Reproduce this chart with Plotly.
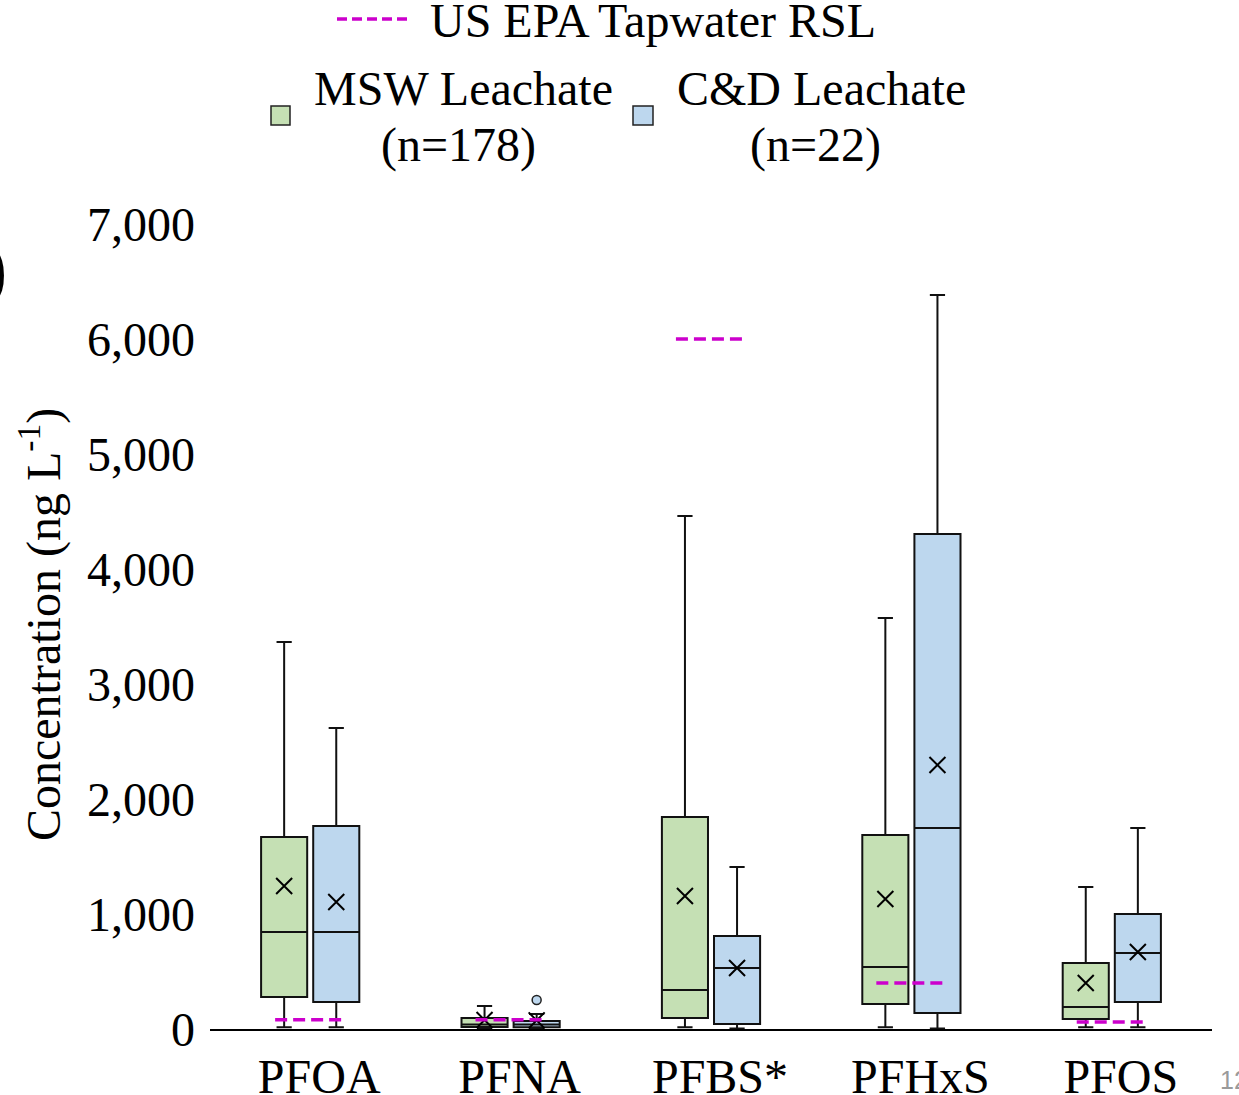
import plotly.graph_objects as go

categories = ["PFOA", "PFNA", "PFBS*", "PFHxS", "PFOS"]

msw_upper = [3365, 200, 4461, 3574, 1235]
msw_q3 = [1670, 96, 1843, 1687, 574]
msw_median = [843, 40, 339, 539, 191]
msw_q1 = [278, 17, 96, 217, 87]
msw_lower = [15, 5, 15, 15, 15]
msw_mean = [1243, 78, 1157, 1130, 400]

cd_upper = [2617, 130, 1409, 6383, 1748]
cd_q3 = [1765, 70, 809, 4304, 1000]
cd_median = [843, 40, 530, 1748, 661]
cd_q1 = [235, 15, 43, 139, 235]
cd_lower = [15, 5, 5, 5, 15]
cd_mean = [1104, 75, 530, 2296, 670]

cd_outlier_cat = ["PFNA"]
cd_outlier_val = [252]

rsl = [80, 80, 6000, 400, 60]

FONT = "Liberation Serif"
FS = 48
GREEN = "#C5E0B4"
BLUE = "#BDD7EE"
MAGENTA = "#CC00CC"
OFF = 0.13
BW = 0.23
HALF = 0.175

idx = list(range(len(categories)))
xm = [i - OFF for i in idx]
xc = [i + OFF for i in idx]

fig = go.Figure()

fig.add_trace(go.Box(
    x=xm, q1=msw_q1, median=msw_median, q3=msw_q3,
    lowerfence=msw_lower, upperfence=msw_upper,
    width=BW, whiskerwidth=0.33, fillcolor=GREEN,
    line=dict(color="#111111", width=2), boxpoints=False, name="MSW"))
fig.add_trace(go.Box(
    x=xc, q1=cd_q1, median=cd_median, q3=cd_q3,
    lowerfence=cd_lower, upperfence=cd_upper,
    width=BW, whiskerwidth=0.33, fillcolor=BLUE,
    line=dict(color="#111111", width=2), boxpoints=False, name="C&D"))

fig.add_trace(go.Scatter(
    x=xm, y=msw_mean, mode="markers",
    marker=dict(symbol="x-thin", size=16, line=dict(color="black", width=2))))
fig.add_trace(go.Scatter(
    x=xc, y=cd_mean, mode="markers",
    marker=dict(symbol="x-thin", size=16, line=dict(color="black", width=2))))

fig.add_trace(go.Scatter(
    x=[categories.index(c) + OFF for c in cd_outlier_cat], y=cd_outlier_val,
    mode="markers",
    marker=dict(symbol="circle", size=9, color=BLUE, line=dict(color="#222222", width=1.5))))

rx, ry = [], []
for i, v in zip(idx, rsl):
    rx += [i - HALF, i + HALF, None]
    ry += [v, v, None]
fig.add_trace(go.Scatter(x=rx, y=ry, mode="lines",
                         line=dict(color=MAGENTA, width=3.5, dash="12px,6px")))

L, R, T, B = 210, 27, 224, 66
W, H = 1239, 1095
PW = W - L - R
PH = H - T - B


def px(X):
    return (X - L) / PW


def py(Y):
    return (H - B - Y) / PH


fig.update_layout(
    width=W, height=H,
    margin=dict(l=L, r=R, t=T, b=B, autoexpand=False),
    paper_bgcolor="white", plot_bgcolor="white",
    showlegend=False,
    font=dict(family=FONT, size=FS, color="black"),
    xaxis=dict(range=[-0.5, 4.5], tickvals=idx, ticktext=categories,
               showgrid=False, zeroline=False, showline=True, automargin=False,
               linecolor="black", linewidth=2, ticks="",
               ticklabelshift=9, ticklabelstandoff=4,
               tickfont=dict(family=FONT, size=FS, color="black")),
    yaxis=dict(range=[0, 7000], tickvals=[0, 1000, 2000, 3000, 4000, 5000, 6000, 7000],
               tickformat=",d", showgrid=False, zeroline=False, showline=False,
               automargin=False, ticks="", ticklabelstandoff=14,
               tickfont=dict(family=FONT, size=FS, color="black")),
)

shapes = [
    dict(type="line", xref="paper", yref="paper",
         x0=px(337), x1=px(412), y0=py(19), y1=py(19),
         line=dict(color=MAGENTA, width=3.5, dash="10px,5px")),
    dict(type="rect", xref="paper", yref="paper",
         x0=px(271), x1=px(290), y0=py(125), y1=py(106),
         fillcolor=GREEN, line=dict(color="#222222", width=1.5)),
    dict(type="rect", xref="paper", yref="paper",
         x0=px(633), x1=px(653), y0=py(125), y1=py(106),
         fillcolor=BLUE, line=dict(color="#222222", width=1.5)),
]
fig.update_layout(shapes=shapes)

ann = [
    dict(text="US EPA Tapwater RSL", x=px(428), y=py(21), xanchor="left", yanchor="middle"),
    dict(text="MSW Leachate", x=px(463), y=py(88), xanchor="center", yanchor="middle"),
    dict(text="(n=178)", x=px(458), y=py(145), xanchor="center", yanchor="middle"),
    dict(text="C&D Leachate", x=px(821), y=py(88), xanchor="center", yanchor="middle"),
    dict(text="(n=22)", x=px(815), y=py(145), xanchor="center", yanchor="middle"),
    dict(text="Concentration (ng L<sup>-1</sup>)", x=px(40), y=py(625),
         xanchor="center", yanchor="middle", textangle=-90),
    dict(text="(a)", x=px(9), y=py(268), xanchor="right", yanchor="middle",
         font=dict(family=FONT, size=76, color="black")),
    dict(text="12", x=px(1218), y=py(1080), xanchor="left", yanchor="middle",
         font=dict(family="Liberation Sans", size=25, color="#9a9a9a")),
]
for a in ann:
    a.setdefault("font", dict(family=FONT, size=FS, color="black"))
    a.update(xref="paper", yref="paper", showarrow=False)
fig.update_layout(annotations=ann)

fig.write_html("out.html")
